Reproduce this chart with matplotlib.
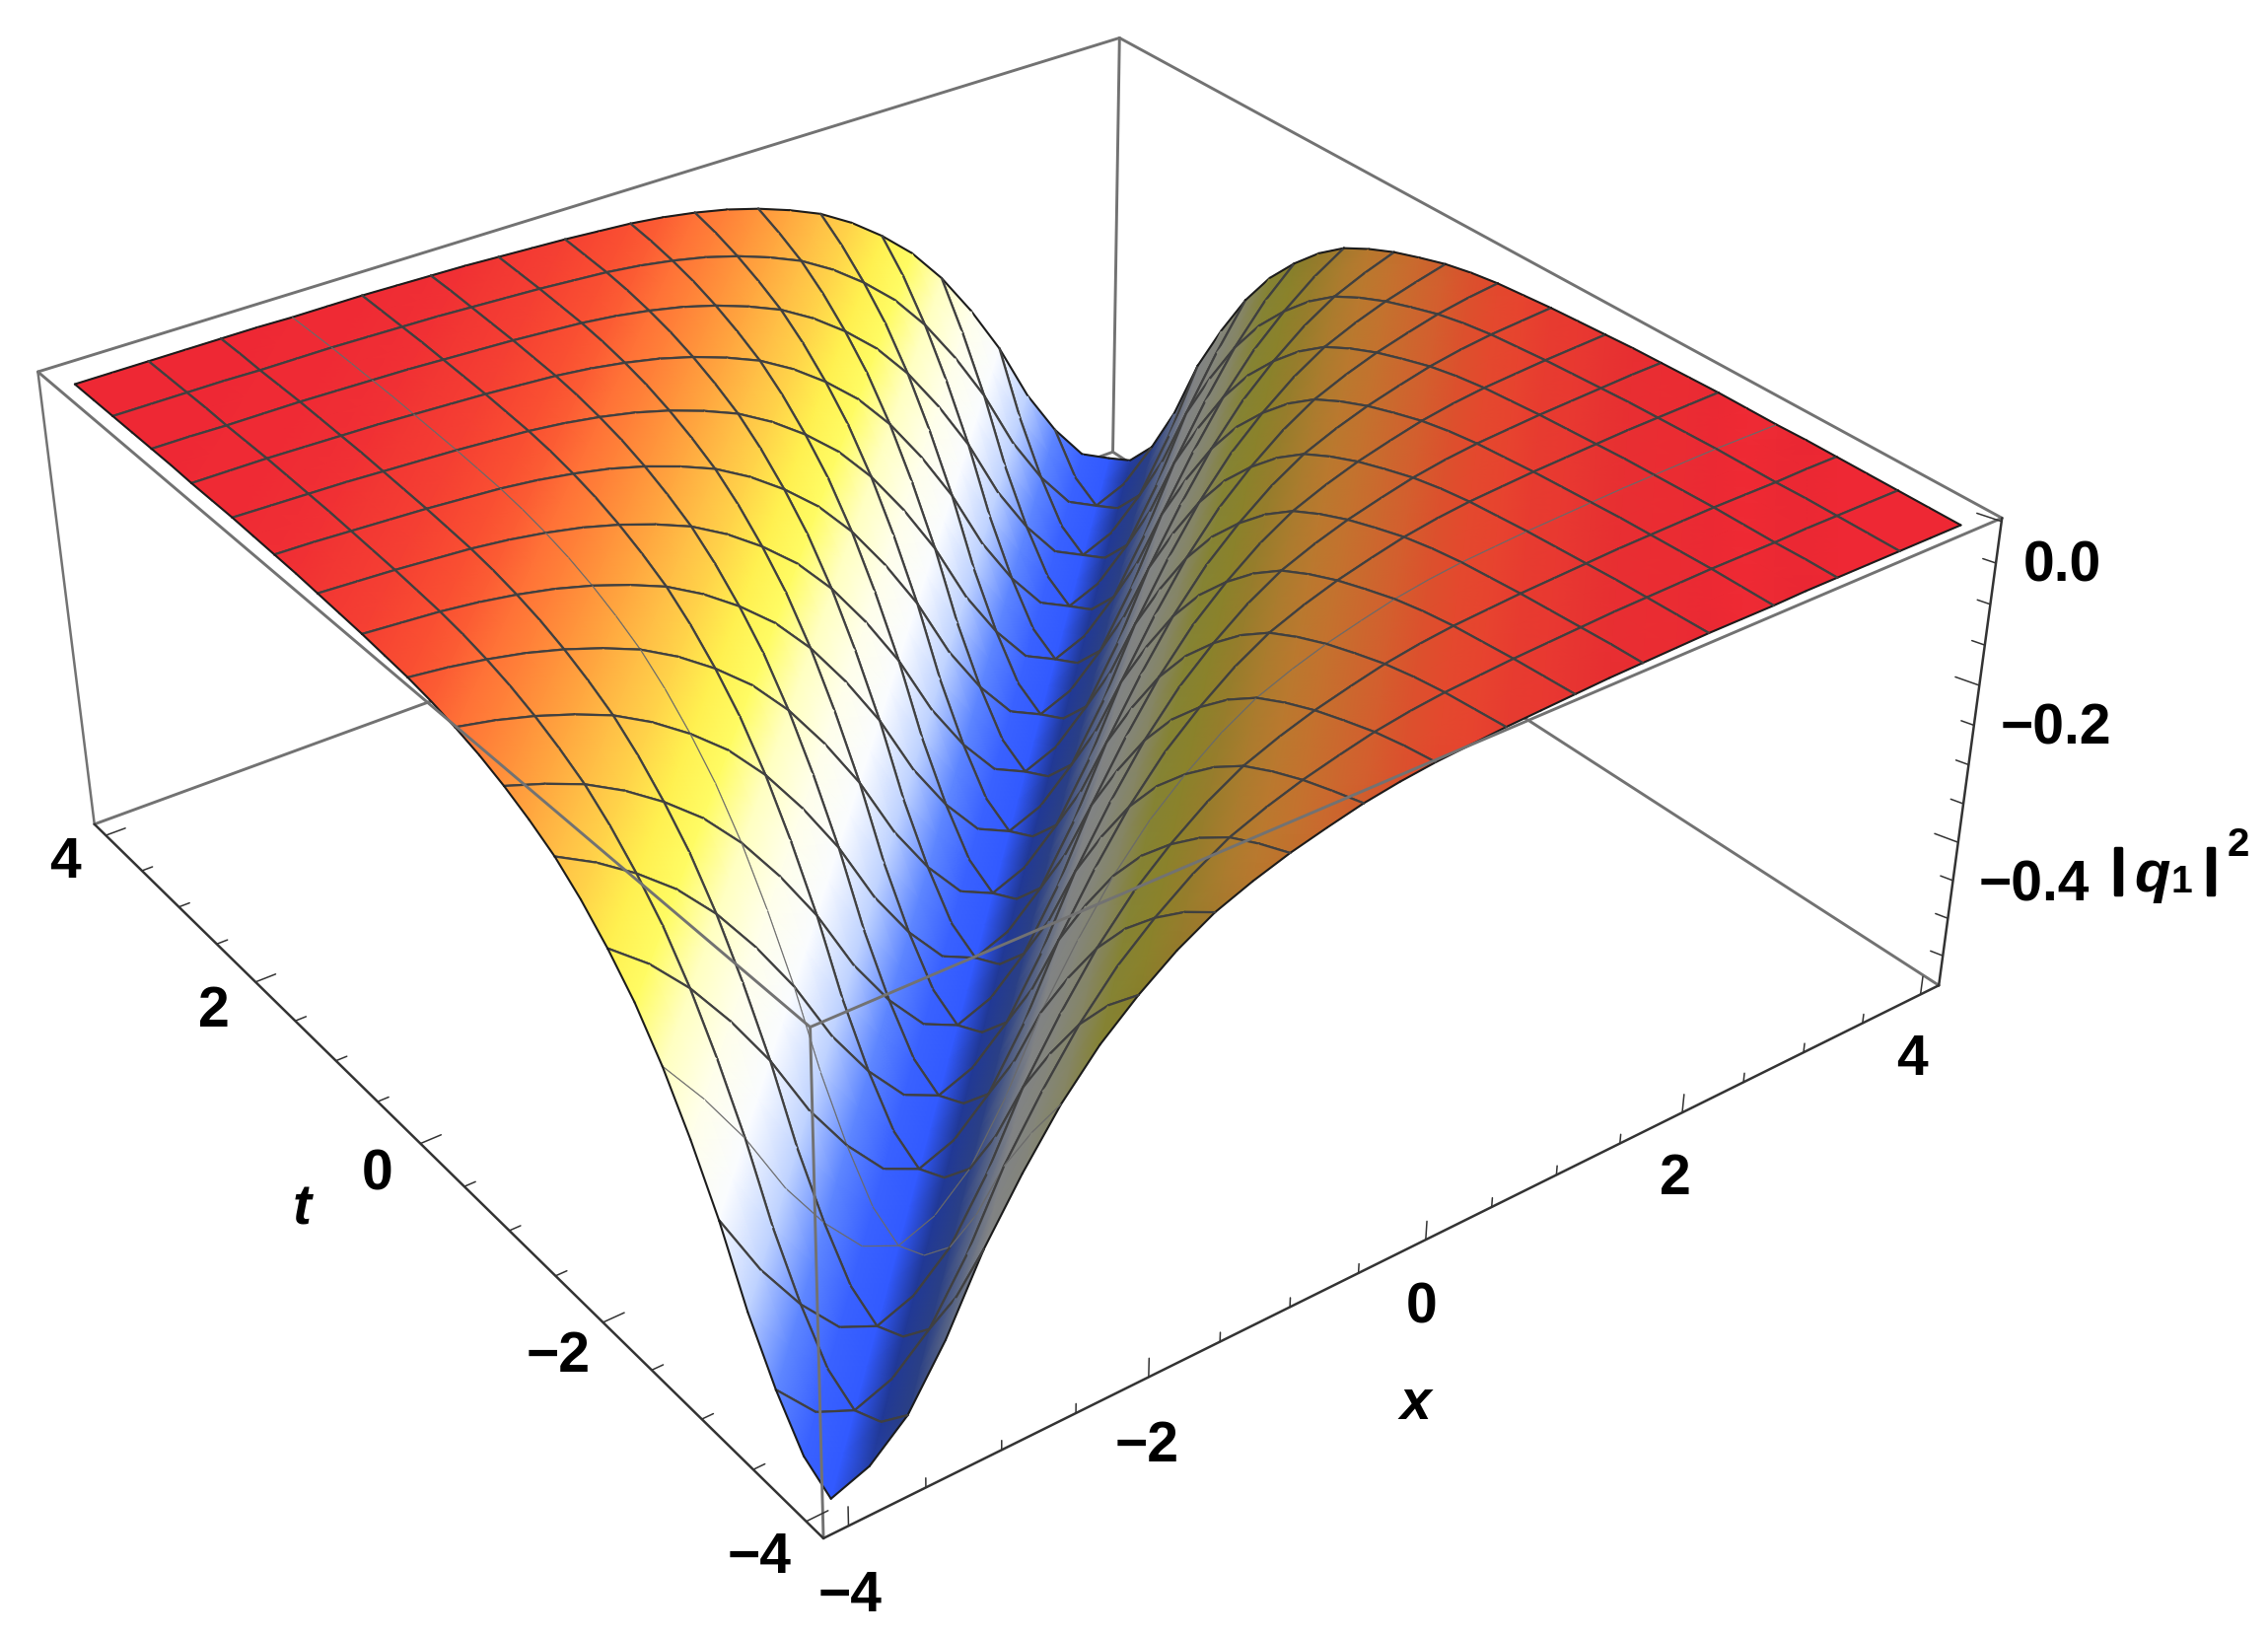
import numpy as np
import matplotlib
matplotlib.use("Agg")
import matplotlib.pyplot as plt
import matplotlib.patheffects as pe
from matplotlib.collections import TriMesh
from matplotlib.colors import LinearSegmentedColormap, Normalize
from matplotlib.tri import Triangulation
from mpl_toolkits.mplot3d import proj3d

# sample positions along each axis
x_vals = [-4.0, -3.75, -3.5, -3.25, -3.0, -2.75, -2.5, -2.25, -2.0, -1.75, -1.5, -1.25, -1.0, -0.75, -0.5, -0.25, 0.0,
          0.25, 0.5, 0.75, 1.0, 1.25, 1.5, 1.75, 2.0, 2.25, 2.5, 2.75, 3.0, 3.25, 3.5, 3.75, 4.0]
t_vals = list(x_vals)
# height of the surface, by distance from the trough x = t
z_left = [-.577, -.556, -.505, -.440, -.358, -.290, -.231, -.183, -.146, -.115, -.090, -.072, -.057, -.045, -.036, -.029,
          -.024, -.021, -.018, -.016, -.014, -.012, -.011, -.010, -.009, -.009, -.009, -.008, -.008, -.008, -.008, -.008, -.008]
z_right = [-.577, -.560, -.520, -.450, -.362, -.293, -.232, -.183, -.145, -.113, -.088, -.071, -.057, -.046, -.036, -.029,
           -.024, -.021, -.018, -.016, -.014, -.012, -.011, -.010, -.009, -.009, -.009, -.008, -.008, -.008, -.008, -.008, -.008]
xt_major = [-4, -2, 0, 2, 4]
xt_minor = [-3.5, -3, -2.5, -1.5, -1, -0.5, 0.5, 1, 1.5, 2.5, 3, 3.5]
z_major = [0.0, -0.2, -0.4]
z_minor = [-0.05, -0.1, -0.15, -0.25, -0.3, -0.35, -0.45, -0.5, -0.55]

W, H = 2300, 1659
XL = (-4.16, 4.16)
TL = (-4.16, 4.16)
ZL = (-0.59, 0.004)
FONT = 'Liberation Sans'

n = len(x_vals)
X, T = np.meshgrid(x_vals, t_vals)
Z = np.array([[z_right[j - i] if j >= i else z_left[i - j] for j in range(n)] for i in range(n)])

stops = [(-0.59, (48, 86, 255)), (-0.577, (50, 90, 255)), (-0.55, (60, 100, 255)), (-0.505, (95, 135, 255)),
         (-0.44, (190, 210, 255)), (-0.36, (250, 252, 255)), (-0.29, (255, 255, 235)), (-0.229, (255, 255, 190)),
         (-0.183, (255, 252, 100)), (-0.146, (255, 240, 80)), (-0.09, (255, 190, 70)), (-0.058, (255, 150, 60)),
         (-0.036, (255, 115, 55)), (-0.024, (250, 80, 50)), (-0.008, (238, 40, 52)), (0.004, (238, 40, 52))]
norm = Normalize(ZL[0], ZL[1])
cmap = LinearSegmentedColormap.from_list(
    'surf', [(float(norm(z)), tuple(c/255 for c in col)) for z, col in stops], N=1024)

# right hand slope sits in shadow
dzdx = np.gradient(Z, x_vals, axis=1)
dzdt = np.gradient(Z, t_vals, axis=0)
slope = np.clip((dzdx - dzdt)/2, 0, None)
shade = np.clip(1/(1 + 6*slope), 0.52, 1)
rgba = cmap(norm(Z))
rgba[..., :3] *= shade[..., None]

fig = plt.figure(figsize=(W/100, H/100), dpi=100, facecolor='white')
ax = fig.add_axes([0, 0, 1, 1], projection='3d', computed_zorder=False)
ax.set_xlim(*XL)
ax.set_ylim(*TL)
ax.set_zlim(*ZL)
ax.view_init(elev=32.0895, azim=-126.3418, roll=-0.0141)
ax.set_proj_type('persp', focal_length=0.4377)
ax.set_box_aspect((1, 0.9999, 0.3987))
s, cx, cy = 1966.8846, 980.2199, 942.8548
ax.set_position([cx/W - s/W/2, cy/H - s/H/2, s/W, s/H])
ax.apply_aspect()
ax.set_axis_off()
M = ax.get_proj()


def seg(xs, ts, zs, color, lw, zorder):
    ax.plot3D(xs, ts, zs, color=color, lw=lw, zorder=zorder, clip_on=False, solid_capstyle='round')


def label(x, t, z, text, **kw):
    a, b, _ = proj3d.proj_transform(x, t, z, M)
    ax.text2D(a, b, text, transform=ax.transData, **kw)


# box edges behind the surface
GRAY = '#727272'
BOX = 2.1
seg([XL[0], XL[1]], [TL[1], TL[1]], [ZL[0], ZL[0]], GRAY, BOX, 1)
seg([XL[1], XL[1]], [TL[0], TL[1]], [ZL[0], ZL[0]], GRAY, BOX, 1)
seg([XL[1], XL[1]], [TL[1], TL[1]], [ZL[0], ZL[1]], GRAY, BOX, 1)
seg([XL[0], XL[1]], [TL[1], TL[1]], [ZL[1], ZL[1]], GRAY, BOX, 1)
seg([XL[1], XL[1]], [TL[0], TL[1]], [ZL[1], ZL[1]], GRAY, BOX, 1)

# surface, cell by cell from the back corner so near cells hide far ones
px, py, _ = proj3d.proj_transform(X.ravel(), T.ravel(), Z.ravel(), M)
px = px.reshape(X.shape)
py = py.reshape(X.shape)
MESH = '#404040'
THIN_IDX = 6   # one mesh line each way is drawn fainter
MESH_STEP = 2  # a mesh line on every second sample
order = 10


def edge_style(idx):
    if idx == 0 or idx == n - 1:
        return '#1c1c1c', 1.5
    if idx == THIN_IDX:
        return '#6a6a6a', 0.8
    return MESH, 1.6


for i in range(n - 2, -1, -1):
    for j in range(n - 2, -1, -1):
        ii = [i, i, i+1, i+1]
        jj = [j, j+1, j, j+1]
        # split along the diagonal so colour runs with the trough
        tri = Triangulation(px[ii, jj], py[ii, jj], triangles=[[0, 1, 3], [0, 3, 2]])
        mesh = TriMesh(tri, transform=ax.transData, facecolors=rgba[ii, jj], zorder=order)
        mesh.do_3d_projection = lambda: 0
        ax.add_collection(mesh, autolim=False)
        mesh.set_clip_on(False)
        order += 1
        for a, b, idx in [((i, j), (i, j+1), i), ((i+1, j), (i+1, j+1), i+1),
                          ((i, j), (i+1, j), j), ((i, j+1), (i+1, j+1), j+1)]:
            if idx % MESH_STEP == 0:
                c, lw = edge_style(idx)
                seg([X[a], X[b]], [T[a], T[b]], [Z[a], Z[b]], c, lw, order)
        order += 1

# box edges in front of the surface
front = 5000
seg([XL[0], XL[0]], [TL[0], TL[1]], [ZL[1], ZL[1]], GRAY, BOX, front)
seg([XL[0], XL[1]], [TL[0], TL[0]], [ZL[1], ZL[1]], GRAY, BOX, front)
seg([XL[0], XL[0]], [TL[0], TL[0]], [ZL[0], ZL[1]], GRAY, BOX, front)
seg([XL[0], XL[0]], [TL[1], TL[1]], [ZL[0], ZL[1]], GRAY, 1.8, front)

# axes with ticks
AXC = '#333333'
seg([XL[0], XL[1]], [TL[0], TL[0]], [ZL[0], ZL[0]], AXC, 1.8, front)
seg([XL[0], XL[0]], [TL[0], TL[1]], [ZL[0], ZL[0]], AXC, 1.8, front)
seg([XL[1], XL[1]], [TL[0], TL[0]], [ZL[0], ZL[1]], AXC, 1.8, front)

for ticks, dz in ((xt_major, 0.024), (xt_minor, 0.012)):
    for v in ticks:
        seg([v, v], [TL[0], TL[0]], [ZL[0], ZL[0] + dz], AXC, 1.1, front)
for ticks, dx in ((xt_major, 0.14), (xt_minor, 0.075)):
    for v in ticks:
        seg([XL[0], XL[0] + dx], [v, v], [ZL[0], ZL[0]], AXC, 1.1, front)
for ticks, dt in ((z_major, 0.15), (z_minor, 0.08)):
    for v in ticks:
        seg([XL[1], XL[1] - dt*0.3], [TL[0], TL[0] + dt], [v, v], AXC, 1.1, front)

# tick labels
txt = dict(family=FONT, fontweight='bold', fontsize=41, color='black', zorder=front + 1)
for v in xt_major:
    label(v, TL[0], ZL[0] - 0.09, str(v).replace('-', '\u2212'), ha='center', va='center', **txt)
for v in xt_major:
    label(XL[0] - 0.3, v, ZL[0] - 0.017, str(v).replace('-', '\u2212'), ha='center', va='center', **txt)
for v in z_major:
    label(XL[1], TL[0] - 0.2, v - 0.037, ('%.1f' % v).replace('-', '\u2212'), ha='left', va='center', **txt)

label(0.0, TL[0], ZL[0] - 0.22, 'x', ha='center', va='center', style='italic', **txt)
label(XL[0] - 0.8, 0, ZL[0] - 0.02, 't', ha='center', va='center', style='italic', **txt)

# the |q1|^2 label, one piece at a time as the sub and superscript sit apart
lab = dict(family=FONT, fontweight='bold', color='black', ha='center', va='center')
bar = dict(fontsize=36, path_effects=[pe.withStroke(linewidth=2.5, foreground='black')], **lab)
fig.text(2148/W, 1 - 884/H, '|', **bar)
fig.text(2183/W, 1 - 888/H, 'q', fontsize=43, style='italic', **lab)
fig.text(2212/W, 1 - 895/H, '1', fontsize=28, **lab)
fig.text(2242/W, 1 - 884/H, '|', **bar)
fig.text(2270/W, 1 - 857/H, '2', fontsize=29, **lab)

fig.savefig('out.png', dpi=100, facecolor='white')
